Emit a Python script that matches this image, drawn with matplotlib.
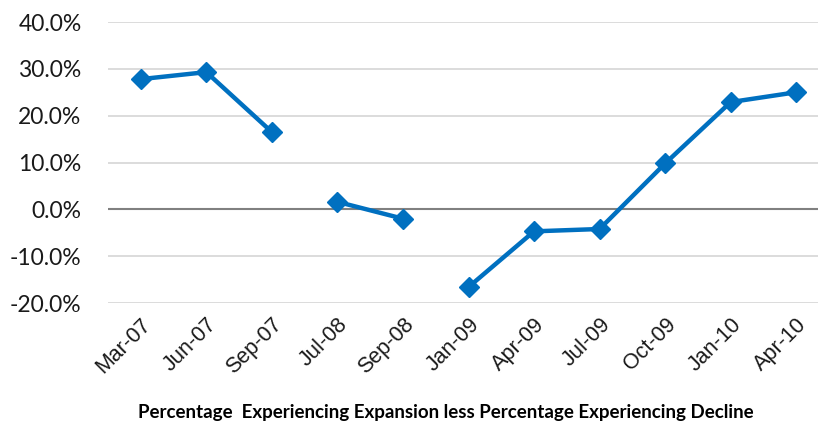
import numpy as np
import matplotlib
matplotlib.use("Agg")
import matplotlib.pyplot as plt
from matplotlib.ticker import FuncFormatter

# Survey periods and net balance (% expansion minus % decline)
periods = ["Mar-07", "Jun-07", "Sep-07", "Jul-08", "Sep-08", "Jan-09",
           "Apr-09", "Jul-09", "Oct-09", "Jan-10", "Apr-10"]
net_balance = [27.8, 29.3, 16.5, 1.6, -2.0, -16.6, -4.7, -4.2, 9.8, 22.9, 25.0]
# consecutive survey runs (line is broken between runs)
run_id = [0, 0, 0, 1, 1, 2, 2, 2, 2, 2, 2]
y_ticks = [-20, -10, 0, 10, 20, 30, 40]
x_title = "Percentage  Experiencing Expansion less Percentage Experiencing Decline"

W, H = 818, 423
fig = plt.figure(figsize=(W / 100, H / 100), dpi=100)
ax = fig.add_axes([108 / W, 1 - 303 / H, 721 / W, 281 / H])

x = np.arange(len(periods))
vals = np.array(net_balance)
runs = np.array(run_id)
blue = "#0070C0"

for r in np.unique(runs):
    m = runs == r
    ax.plot(x[m], vals[m], color=blue, lw=3.2, marker="D", ms=10.5,
            mfc=blue, mec=blue, solid_joinstyle="miter", zorder=3)

ax.set_xlim(-0.5, len(periods) - 0.5)
ax.set_ylim(-20, 40)
ax.set_yticks(y_ticks)
ax.yaxis.set_major_formatter(FuncFormatter(lambda v, p: f"{v:.1f}%"))
ax.grid(axis="y", color="#D9D9D9", lw=1.3, zorder=0)
ax.axhline(0, color="#808080", lw=1.5, zorder=1)
ax.set_axisbelow(True)
for s in ax.spines.values():
    s.set_visible(False)

ax.tick_params(axis="both", length=0)
ax.tick_params(axis="y", pad=19)
for lbl in ax.get_yticklabels():
    lbl.set_fontfamily("Lato")
    lbl.set_fontsize(16.5)
    lbl.set_color("#1a1a1a")

ax.set_xticks(x)
ax.set_xticklabels(periods, rotation=45, ha="right", va="top",
                   rotation_mode="anchor", fontsize=15.5,
                   fontfamily="Liberation Sans", color="#1a1a1a")
ax.tick_params(axis="x", pad=8)

fig.text(446 / W, 1 - 412 / H, x_title, ha="center", va="center",
         fontsize=13.5, fontweight="bold", fontfamily="Lato", color="#000000")

fig.savefig("out.png", dpi=100)
